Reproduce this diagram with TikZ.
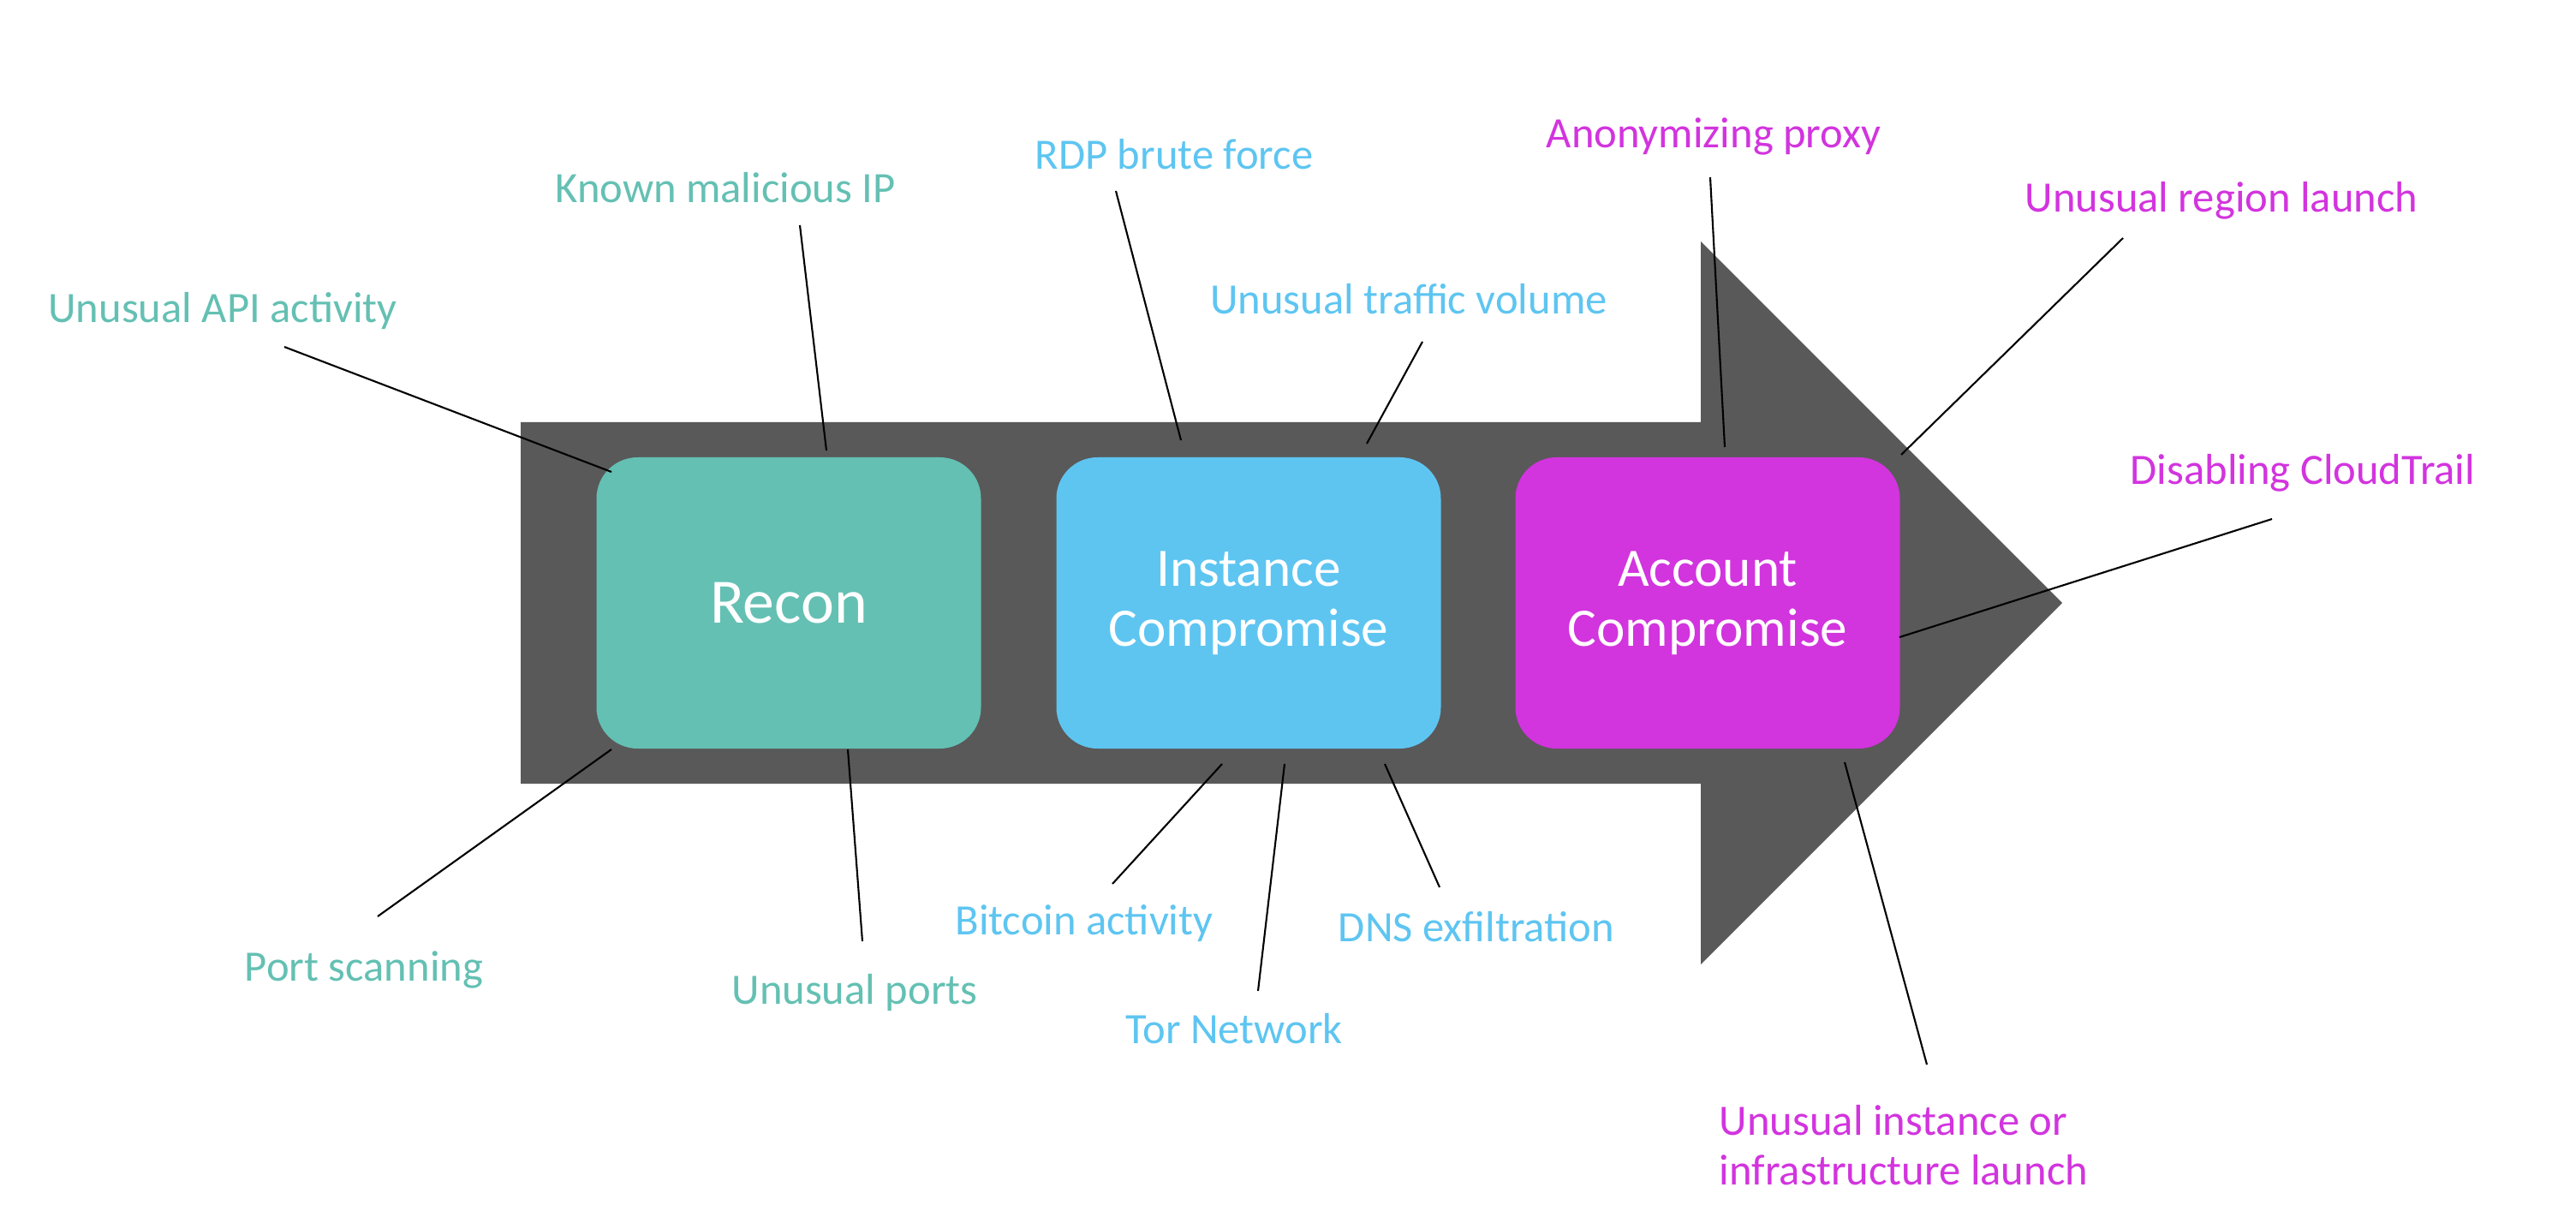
\documentclass[tikz,border=0pt]{standalone}
\usepackage{fontspec}
\setmainfont{Carlito}
\usepackage{tikz}
\usetikzlibrary{calc}
\definecolor{reconcol}{RGB}{100,192,179}
\definecolor{instcol}{RGB}{94,197,241}
\definecolor{acctcol}{RGB}{210,52,222}
\definecolor{arrowcol}{RGB}{89,89,89}
\tikzset{
  stage/.style={rounded corners=0.48cm, minimum width=4.49cm, minimum height=3.40cm, text=white, align=center, font=\fontsize{18}{20}\selectfont},
  finding/.style={font=\fontsize{14.4}{16.4}\selectfont},
  leader/.style={draw=black, line width=0.6pt}
}
\begin{document}
\begin{tikzpicture}
          \useasboundingbox (0,0) rectangle (30.08,14.34);
          % big arrow
          \fill[arrowcol] (6.08,9.41) -- (19.86,9.41) -- (19.86,11.52) -- (24.08,7.30) -- (19.86,3.08) -- (19.86,5.19) -- (6.08,5.19) -- cycle;

          \node[stage, fill=reconcol, font=\fontsize{21}{24}\selectfont] (Recon) at (9.21,7.30) {Recon};
          \node[stage, fill=instcol] (Instance) at (14.58,7.30) {Instance\\Compromise};
          \node[stage, fill=acctcol] (Account) at (19.94,7.30) {Account\\Compromise};

          % recon findings
          \node[finding, text=reconcol] (ApiActivity) at (2.60,10.71) {Unusual API activity};
          \node[finding, text=reconcol] (MaliciousIp) at (8.47,12.15) {Known malicious IP};
          \node[finding, text=reconcol] (PortScan) at (4.25,3.02) {Port scanning};
          \node[finding, text=reconcol] (UnusualPorts) at (9.98,2.75) {Unusual ports};
          % instance findings
          \node[finding, text=instcol] (RdpBrute) at (13.71,12.54) {RDP brute force};
          \node[finding, text=instcol] (TrafficVolume) at (16.45,10.85) {Unusual traffic volume};
          \node[finding, text=instcol] (Bitcoin) at (12.66,3.56) {Bitcoin activity};
          \node[finding, text=instcol] (TorNet) at (14.41,2.33) {Tor Network};
          \node[finding, text=instcol] (DnsExfil) at (17.24,3.52) {DNS exfiltration};
          % account findings
          \node[finding, text=acctcol] (AnonProxy) at (20.01,12.75) {Anonymizing proxy};
          \node[finding, text=acctcol] (RegionLaunch) at (25.94,12.00) {Unusual region launch};
          \node[finding, text=acctcol] (CloudTrail) at (26.89,8.82) {Disabling CloudTrail};
          \node[finding, text=acctcol, align=left] (InfraLaunch) at (22.23,0.97) {Unusual instance or\\infrastructure launch};

          % leader line ends
          \coordinate (ApiActivityA) at (3.32,10.29);    \coordinate (ApiActivityB) at (7.14,8.83);
          \coordinate (MaliciousIpA) at (9.34,11.71);    \coordinate (MaliciousIpB) at (9.65,9.08);
          \coordinate (PortScanA) at (4.41,3.64);        \coordinate (PortScanB) at (7.14,5.59);
          \coordinate (UnusualPortsA) at (10.07,3.35);   \coordinate (UnusualPortsB) at (9.90,5.59);
          \coordinate (RdpBruteA) at (13.03,12.11);      \coordinate (RdpBruteB) at (13.79,9.20);
          \coordinate (TrafficVolumeA) at (16.61,10.35); \coordinate (TrafficVolumeB) at (15.96,9.16);
          \coordinate (BitcoinA) at (12.99,4.02);        \coordinate (BitcoinB) at (14.27,5.42);
          \coordinate (TorNetA) at (14.69,2.77);         \coordinate (TorNetB) at (15.00,5.42);
          \coordinate (DnsExfilA) at (16.81,3.98);       \coordinate (DnsExfilB) at (16.17,5.42);
          \coordinate (AnonProxyA) at (19.97,12.27);     \coordinate (AnonProxyB) at (20.14,9.12);
          \coordinate (RegionLaunchA) at (24.79,11.56);  \coordinate (RegionLaunchB) at (22.20,9.03);
          \coordinate (CloudTrailA) at (26.53,8.28);     \coordinate (CloudTrailB) at (22.18,6.90);
          \coordinate (InfraLaunchA) at (22.50,1.91);    \coordinate (InfraLaunchB) at (21.54,5.44);

          \foreach \f in {ApiActivity,MaliciousIp,PortScan,UnusualPorts,RdpBrute,TrafficVolume,Bitcoin,TorNet,DnsExfil,AnonProxy,RegionLaunch,CloudTrail,InfraLaunch}
            \draw[leader] (\f A) -- (\f B);
        \end{tikzpicture}
\end{document}
